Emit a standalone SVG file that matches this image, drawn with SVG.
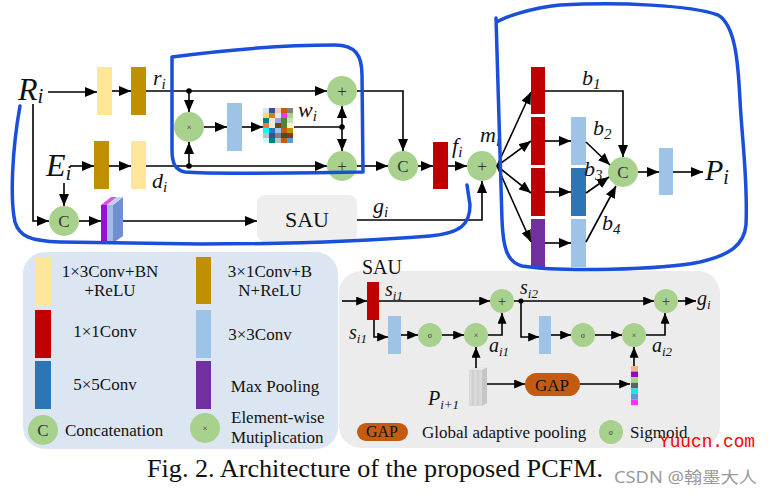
<svg xmlns="http://www.w3.org/2000/svg" width="768" height="496" viewBox="0 0 768 496">
<defs>
<marker id="a" viewBox="0 0 12 10" refX="12" refY="5" markerWidth="12" markerHeight="10" markerUnits="userSpaceOnUse" orient="auto"><path d="M0,0 L12,5 L0,10 z" fill="#000"/></marker>
<marker id="s" viewBox="0 0 12 10" refX="12" refY="5" markerWidth="11" markerHeight="9" markerUnits="userSpaceOnUse" orient="auto"><path d="M0,0 L12,5 L0,10 z" fill="#000"/></marker>
<style>
.ln{fill:none;stroke:#000;stroke-width:1.6}
.ar{fill:none;stroke:#000;stroke-width:1.6;marker-end:url(#a)}
.as{fill:none;stroke:#000;stroke-width:1.6;marker-end:url(#s)}
.g{fill:#a9d18e}
.y{fill:#ffe699}
.o{fill:#bf9000}
.r{fill:#c00000}
.lb{fill:#9dc3e6}
.db{fill:#2e75b6}
.p{fill:#7030a0}
.t{font-family:"Liberation Serif","Times New Roman",serif;fill:#111}
.m{font-family:"Liberation Serif","Times New Roman",serif;font-style:italic;fill:#111}
.sym{font-family:"Liberation Serif","DejaVu Serif",serif;fill:#333;text-anchor:middle}
.blue{fill:none;stroke:#1a4fdc;stroke-width:3.5;stroke-linecap:round;stroke-linejoin:round}
</style>
</defs>
<rect width="768" height="496" fill="#fff"/>

<!-- legend panel -->
<g id="legend">
<rect x="23" y="252" width="315" height="197" rx="22" fill="#dce6f2"/>
<rect class="y" x="35" y="257" width="16" height="48"/>
<text class="t" x="110" y="277" font-size="17" text-anchor="middle">1×3Conv+BN</text>
<text class="t" x="110" y="296" font-size="17" text-anchor="middle">+ReLU</text>
<rect class="o" x="196" y="257" width="15" height="47"/>
<text class="t" x="270" y="277" font-size="17" text-anchor="middle">3×1Conv+B</text>
<text class="t" x="270" y="296" font-size="17" text-anchor="middle">N+ReLU</text>
<rect class="r" x="35" y="310" width="16" height="48"/>
<text class="t" x="105" y="337" font-size="17" text-anchor="middle">1×1Conv</text>
<rect class="lb" x="196" y="310" width="15" height="48"/>
<text class="t" x="260" y="340" font-size="17" text-anchor="middle">3×3Conv</text>
<rect class="db" x="35" y="361" width="16" height="48"/>
<text class="t" x="105" y="390" font-size="17" text-anchor="middle">5×5Conv</text>
<rect class="p" x="196" y="361" width="15" height="48"/>
<text class="t" x="275" y="392" font-size="17" text-anchor="middle">Max Pooling</text>
<circle class="g" cx="43" cy="430" r="15"/>
<text class="sym" x="43" y="436" font-size="17" fill="#222">C</text>
<text class="t" x="65" y="436" font-size="17">Concatenation</text>
<circle class="g" cx="205" cy="428" r="15"/>
<text class="sym" x="205" y="431" font-size="9">×</text>
<text class="t" x="231" y="423" font-size="17">Element-wise</text>
<text class="t" x="231" y="443" font-size="17">Mutiplication</text>
</g>

<!-- SAU panel -->
<g id="sau-panel">
<rect x="339" y="271" width="381" height="177" rx="22" fill="#ececec"/>
<text class="t" x="362" y="274" font-size="20">SAU</text>
</g>

<!-- main nodes -->
<g id="Ri"><text class="m" x="18" y="100" font-size="32">R<tspan font-size="21" dy="3">i</tspan></text></g>
<g id="Ei"><text class="m" x="46" y="176" font-size="32">E<tspan font-size="21" dy="4">i</tspan></text></g>
<g id="y1"><rect class="y" x="97" y="67" width="15" height="48"/></g>
<g id="o1"><rect class="o" x="131" y="67" width="15" height="48"/></g>
<g id="ri"><text class="m" x="153" y="85" font-size="22">r<tspan font-size="15" dy="4">i</tspan></text></g>
<g id="o2"><rect class="o" x="94" y="141" width="15" height="48"/></g>
<g id="y2"><rect class="y" x="131" y="141" width="15" height="48"/></g>
<g id="di"><text class="m" x="152" y="188" font-size="22">d<tspan font-size="15" dy="4">i</tspan></text></g>
<g id="c0"><circle class="g" cx="64" cy="221" r="15"/><text class="sym" x="64" y="227" font-size="17" fill="#222">C</text></g>
<g id="block">
<polygon points="113,205 123,197 123,236 113,243" fill="#6f8fd2"/>
<rect x="101" y="205" width="6" height="38" fill="#9b10d0"/>
<rect x="107" y="205" width="6" height="38" fill="#a6bbe4"/>
<polygon points="101,205 107,205 117,197 111,197" fill="#e050f0"/>
<polygon points="107,205 113,205 123,197 117,197" fill="#c3d1ee"/>
</g>
<g id="mul1"><circle class="g" cx="189" cy="127" r="15"/><text class="sym" x="189" y="130" font-size="9">×</text></g>
<g id="lb1"><rect class="lb" x="227" y="103" width="15" height="48"/></g>
<g id="wi">
<g>
<rect x="263" y="108" width="6" height="5" fill="#dae3f3"/><rect x="269" y="108" width="6" height="5" fill="#2f5597"/><rect x="275" y="108" width="6" height="5" fill="#f8cbad"/><rect x="281" y="108" width="6" height="5" fill="#c55a11"/><rect x="287" y="108" width="6" height="5" fill="#808080"/>
<rect x="263" y="113" width="6" height="5" fill="#ffd966"/><rect x="269" y="113" width="6" height="5" fill="#bf9000"/><rect x="275" y="113" width="6" height="5" fill="#deebf7"/><rect x="281" y="113" width="6" height="5" fill="#ff33ff"/><rect x="287" y="113" width="6" height="5" fill="#a9d18e"/>
<rect x="263" y="118" width="6" height="5" fill="#00827f"/><rect x="269" y="118" width="6" height="5" fill="#fbe5d6"/><rect x="275" y="118" width="6" height="5" fill="#8faadc"/><rect x="281" y="118" width="6" height="5" fill="#548235"/><rect x="287" y="118" width="6" height="5" fill="#c5e0b4"/>
<rect x="263" y="123" width="6" height="5" fill="#ed7d31"/><rect x="269" y="123" width="6" height="5" fill="#e2f0d9"/><rect x="275" y="123" width="6" height="5" fill="#843c0c"/><rect x="281" y="123" width="6" height="5" fill="#548235"/><rect x="287" y="123" width="6" height="5" fill="#fff2cc"/>
<rect x="263" y="128" width="6" height="5" fill="#00ffff"/><rect x="269" y="128" width="6" height="5" fill="#2e75b6"/><rect x="275" y="128" width="6" height="5" fill="#9dc3e6"/><rect x="281" y="128" width="6" height="5" fill="#c55a11"/><rect x="287" y="128" width="6" height="5" fill="#bf9000"/>
<rect x="263" y="133" width="6" height="5" fill="#bfbfbf"/><rect x="269" y="133" width="6" height="5" fill="#2f5597"/><rect x="275" y="133" width="6" height="5" fill="#808080"/><rect x="281" y="133" width="6" height="5" fill="#385723"/><rect x="287" y="133" width="6" height="5" fill="#843c0c"/>
<rect x="263" y="138" width="6" height="5" fill="#ccffff"/><rect x="269" y="138" width="6" height="5" fill="#00827f"/><rect x="275" y="138" width="6" height="5" fill="#bfbfbf"/><rect x="281" y="138" width="6" height="5" fill="#c55a11"/><rect x="287" y="138" width="6" height="5" fill="#5b9bd5"/>
</g>
<text class="m" x="298" y="117" font-size="22">w<tspan font-size="15" dy="4">i</tspan></text>
</g>
<g id="add1"><circle class="g" cx="342" cy="91" r="15"/><text class="sym" x="342" y="97" font-size="17">+</text></g>
<g id="add2"><circle class="g" cx="342" cy="166" r="15"/><text class="sym" x="342" y="172" font-size="17">+</text></g>
<g id="c1"><circle class="g" cx="403" cy="166" r="15"/><text class="sym" x="403" y="172" font-size="17" fill="#222">C</text></g>
<g id="r1"><rect class="r" x="433" y="142" width="15" height="47"/></g>
<g id="fi"><text class="m" x="452" y="153" font-size="22">f<tspan font-size="15" dy="4">i</tspan></text></g>
<g id="add3"><circle class="g" cx="482" cy="166" r="15"/><text class="sym" x="482" y="172" font-size="17">+</text></g>
<g id="mi"><text class="m" x="480" y="142" font-size="22">m<tspan font-size="15" dy="4">i</tspan></text></g>
<g id="sau"><rect x="257" y="195" width="100" height="47" rx="8" fill="#eeeeee"/><text class="t" x="307" y="227" font-size="22" text-anchor="middle">SAU</text></g>
<g id="gi"><text class="m" x="373" y="213" font-size="22">g<tspan font-size="15" dy="4">i</tspan></text></g>

<g id="b-red1"><rect class="r" x="531" y="67" width="14" height="47"/></g>
<g id="b-red2"><rect class="r" x="531" y="117" width="14" height="48"/></g>
<g id="b-red3"><rect class="r" x="531" y="168" width="14" height="48"/></g>
<g id="b-pool"><rect class="p" x="531" y="219" width="14" height="48"/></g>
<g id="b-lb2"><rect class="lb" x="571" y="117" width="15" height="48"/></g>
<g id="b-db3"><rect class="db" x="571" y="168" width="15" height="48"/></g>
<g id="b-lb4"><rect class="lb" x="571" y="219" width="15" height="48"/></g>
<g id="c2"><circle class="g" cx="623" cy="172" r="15"/><text class="sym" x="623" y="178" font-size="17" fill="#222">C</text></g>
<g id="lb-out"><rect class="lb" x="659" y="148" width="14" height="47"/></g>
<g id="Pi"><text class="m" x="705" y="180" font-size="30">P<tspan font-size="20" dy="4">i</tspan></text></g>
<g id="blabels">
<text class="m" x="582" y="85" font-size="22">b<tspan font-size="15" dy="4">1</tspan></text>
<text class="m" x="593" y="135" font-size="22">b<tspan font-size="15" dy="4">2</tspan></text>
<text class="m" x="584" y="176" font-size="22">b<tspan font-size="15" dy="4">3</tspan></text>
<text class="m" x="602" y="230" font-size="22">b<tspan font-size="15" dy="4">4</tspan></text>
</g>

<!-- SAU detail nodes -->
<g id="s-red"><rect class="r" x="367" y="282" width="12" height="38"/></g>
<g id="s-lbl">
<text class="m" x="385" y="296" font-size="20">s<tspan font-size="13" dy="4">i1</tspan></text>
<text class="m" x="349" y="339" font-size="20">s<tspan font-size="13" dy="4">i1</tspan></text>
<text class="m" x="520" y="294" font-size="20">s<tspan font-size="13" dy="4">i2</tspan></text>
<text class="m" x="489" y="352" font-size="20">a<tspan font-size="13" dy="4">i1</tspan></text>
<text class="m" x="652" y="352" font-size="20">a<tspan font-size="13" dy="4">i2</tspan></text>
<text class="m" x="697" y="305" font-size="20">g<tspan font-size="13" dy="4">i</tspan></text>
<text class="m" x="428" y="405" font-size="20">P<tspan font-size="13" dy="4">i+1</tspan></text>
</g>
<g id="s-lb1"><rect class="lb" x="388" y="316" width="13" height="38"/></g>
<g id="s-sig1"><circle class="g" cx="430" cy="335" r="12"/><text class="sym" x="430" y="338" font-size="8">σ</text></g>
<g id="s-mul1"><circle class="g" cx="476" cy="335" r="12"/><text class="sym" x="476" y="338" font-size="8">×</text></g>
<g id="s-add1"><circle class="g" cx="502" cy="301" r="12"/><text class="sym" x="502" y="306" font-size="15">+</text></g>
<g id="s-lb2"><rect class="lb" x="539" y="316" width="12" height="38"/></g>
<g id="s-sig2"><circle class="g" cx="583" cy="335" r="12"/><text class="sym" x="583" y="338" font-size="8">σ</text></g>
<g id="s-mul2"><circle class="g" cx="634" cy="335" r="12"/><text class="sym" x="634" y="338" font-size="8">×</text></g>
<g id="s-add2"><circle class="g" cx="666" cy="301" r="12"/><text class="sym" x="666" y="306" font-size="15">+</text></g>
<g id="s-p">
<rect x="469" y="370" width="13" height="36" fill="#d9d9d9"/>
<polygon points="482,370 487,367 487,403 482,406" fill="#c6c6c6"/>
<polygon points="469,370 474,367 487,367 482,370" fill="#e6e6e6"/>
<line x1="473" y1="370" x2="473" y2="406" stroke="#c4c4c4" stroke-width="0.8"/>
<line x1="478" y1="370" x2="478" y2="406" stroke="#c4c4c4" stroke-width="0.8"/>
</g>
<g id="s-gap"><rect x="525" y="373" width="55" height="23" rx="11.5" fill="#c55a11"/><text class="t" x="552" y="391" font-size="17" text-anchor="middle">GAP</text></g>
<g id="s-bar">
<rect x="631" y="366" width="7" height="5.6" fill="#f4b183"/>
<rect x="631" y="371.6" width="7" height="5.6" fill="#9900cc"/>
<rect x="631" y="377.2" width="7" height="5.6" fill="#a9d18e"/>
<rect x="631" y="382.8" width="7" height="5.6" fill="#606060"/>
<rect x="631" y="388.4" width="7" height="5.6" fill="#00f0f0"/>
<rect x="631" y="394" width="7" height="5.6" fill="#5b9bd5"/>
<rect x="631" y="399.6" width="7" height="5.6" fill="#ff33ff"/>
</g>
<g id="s-legend">
<rect x="357" y="423" width="51" height="18" rx="9" fill="#c55a11"/>
<text class="t" x="382" y="437" font-size="16" text-anchor="middle">GAP</text>
<text class="t" x="422" y="438" font-size="17">Global adaptive pooling</text>
<circle class="g" cx="611" cy="432" r="12"/><text class="sym" x="611" y="435" font-size="8">σ</text>
<text class="t" x="630" y="438" font-size="17">Sigmoid</text>
</g>

<!-- connectors -->
<g id="connectors">
<path class="ar" d="M48,92 H97"/>
<path class="ar" d="M112,91 H131"/>
<path class="ar" d="M146,91 H327"/>
<path class="ar" d="M70,166 H94"/>
<path class="ar" d="M109,166 H131"/>
<path class="ar" d="M146,166 H327"/>
<circle cx="189" cy="91" r="2.8"/>
<circle cx="189" cy="166" r="2.8"/>
<path class="ar" d="M189,91 V112"/>
<path class="ar" d="M189,166 V142"/>
<path class="ar" d="M204,127 H227"/>
<path class="ar" d="M242,127 H263"/>
<path class="ln" d="M294,127 H342"/>
<circle cx="342" cy="127" r="2.8"/>
<path class="ar" d="M342,127 V106"/>
<path class="ar" d="M342,127 V151"/>
<path class="ar" d="M357,91 H403 V151"/>
<path class="ar" d="M357,166 H388"/>
<path class="ar" d="M418,166 H433"/>
<path class="ar" d="M448,166 H467"/>
<path class="ar" d="M33,104 V221 H49"/>
<path class="ar" d="M64,183 V206"/>
<path class="ar" d="M79,221 H101"/>
<path class="ar" d="M123,221 H257"/>
<path class="ar" d="M357,220 H482 V181"/>
<path class="ar" d="M497,166 L531,92"/>
<path class="ar" d="M497,166 L531,141"/>
<path class="ar" d="M497,166 L531,193"/>
<path class="ar" d="M497,166 L531,242"/>
<path class="ar" d="M545,91 H623 V157"/>
<path class="ar" d="M545,141 H571"/>
<path class="ar" d="M545,192 H571"/>
<path class="ar" d="M545,243 H571"/>
<path class="ar" d="M586,142 L610,165"/>
<path class="ar" d="M586,193 L609,177"/>
<path class="ar" d="M586,242 L616,186"/>
<path class="ar" d="M638,172 H659"/>
<path class="ar" d="M673,172 H703"/>
<!-- SAU -->
<path class="as" d="M342,301 H367"/>
<path class="as" d="M379,301 H490"/>
<path class="as" d="M374,320 V337 H388"/>
<path class="as" d="M401,335 H418"/>
<path class="as" d="M442,335 H464"/>
<path class="as" d="M488,335 H502 V313"/>
<path class="as" d="M514,301 H654"/>
<circle cx="521" cy="301" r="2.6"/>
<path class="as" d="M521,301 V337 H539"/>
<path class="as" d="M551,335 H571"/>
<path class="as" d="M595,335 H622"/>
<path class="as" d="M646,335 H665 V313"/>
<path class="as" d="M678,301 H696"/>
<path class="as" d="M476,368 V347"/>
<path class="as" d="M487,384 H525"/>
<path class="as" d="M580,384 H630"/>
<path class="as" d="M634,366 V347"/>
</g>

<!-- hand-drawn outlines -->
<g id="outlines">
<path class="blue" d="M20,106 C12,150 10,200 15,222 C19,236 30,241 60,242 L200,244 C300,244 380,240 430,236 C460,233 470,225 470,205 L467,185"/>
<path class="blue" d="M172,57 C210,52 270,45 335,45 C355,45 362,55 362,75 L363,172 C300,173 210,174 185,172 C175,170 172,163 172,150 Z"/>
<path class="blue" d="M497,22 C502,18 530,8 560,5 C620,2 690,5 718,15 C735,25 738,60 740,100 C742,140 748,180 746,225 C744,245 730,255 700,262 C660,270 560,272 522,266 C506,262 503,245 502,220 C500,150 498,80 496,18"/>
</g>

<!-- caption and marks -->
<text class="t" x="147" y="477" font-size="25" textLength="456" lengthAdjust="spacingAndGlyphs">Fig. 2. Architecture of the proposed PCFM.</text>
<text x="659" y="447" font-family="Liberation Mono, monospace" font-size="18" fill="#ff0000" textLength="96" lengthAdjust="spacingAndGlyphs">Yuucn.com</text>
<text x="614" y="483" font-family="Noto Sans, Noto Sans CJK SC, sans-serif" font-size="16" fill="#9a9a9a" textLength="143" lengthAdjust="spacingAndGlyphs">CSDN @翰墨大人</text>
</svg>
